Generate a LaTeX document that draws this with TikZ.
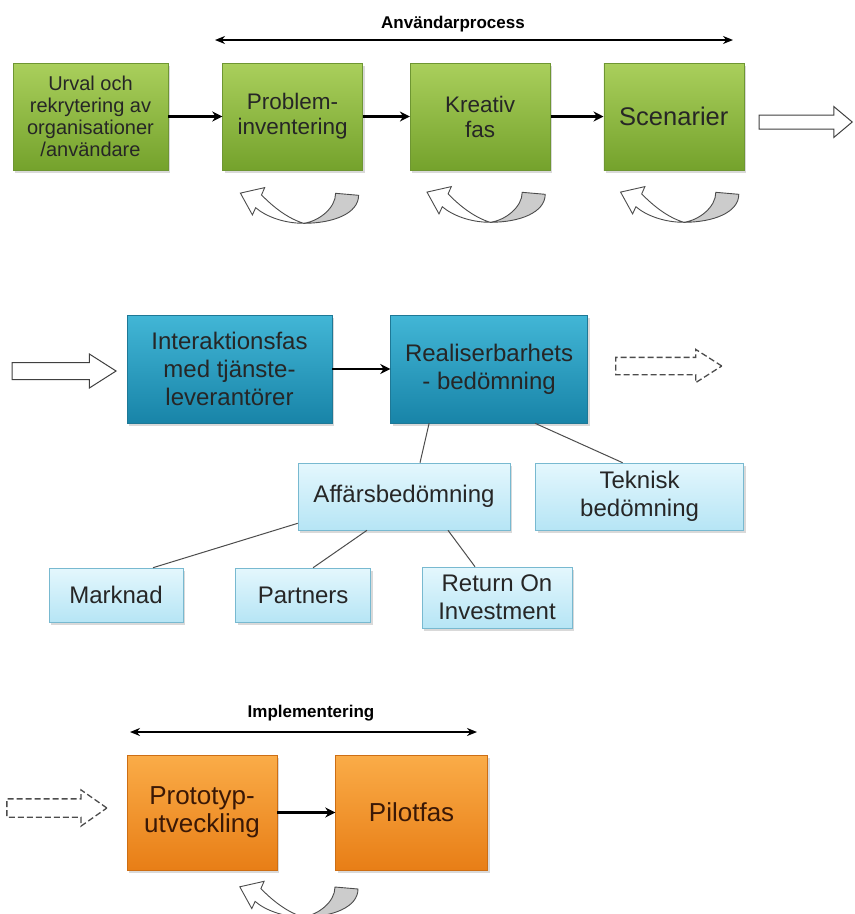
\documentclass[tikz,border=0pt]{standalone}
\usepackage{fontspec}
\setmainfont{Liberation Sans}
\usepackage{tikz}
\usetikzlibrary{positioning,shapes.arrows,shadows,arrows.meta}

\definecolor{gruntop}{RGB}{170,207,92}
\definecolor{grunbot}{RGB}{116,162,44}
\definecolor{grunkant}{RGB}{110,150,50}
\definecolor{blatop}{RGB}{66,182,214}
\definecolor{blabot}{RGB}{24,132,168}
\definecolor{blakant}{RGB}{30,120,150}
\definecolor{ljustop}{RGB}{228,247,253}
\definecolor{ljusbot}{RGB}{182,229,245}
\definecolor{ljuskant}{RGB}{120,185,208}
\definecolor{orantop}{RGB}{250,172,72}
\definecolor{oranbot}{RGB}{232,126,22}
\definecolor{orankant}{RGB}{205,110,20}

\begin{document}
\begin{tikzpicture}[
                x=1pt, y=-1pt,                % 像素坐标
                >={Stealth[length=10pt, width=10pt]},
                every node/.style={align=center, inner sep=2pt},
                box/.style={
                    rectangle,
                    line width=0.6pt,
                    drop shadow={opacity=0.3, shadow xshift=2pt, shadow yshift=-3pt}
                },
                gron/.style={box, top color=gruntop, bottom color=grunbot, draw=grunkant,
                    text=black!85, minimum width=140pt, minimum height=107pt,
                    font=\fontsize{22.5}{25}\selectfont},
                bla/.style={box, top color=blatop, bottom color=blabot, draw=blakant,
                    text=black!85, minimum height=108pt, font=\fontsize{24}{28}\selectfont},
                ljus/.style={box, top color=ljustop, bottom color=ljusbot, draw=ljuskant,
                    text=black!85, font=\fontsize{24}{28}\selectfont},
                oran/.style={box, top color=orantop, bottom color=oranbot, draw=orankant,
                    text={rgb,255:red,58;green,24;blue,6}, minimum height=115pt,
                    font=\fontsize{26}{28}\selectfont},
                arrow/.style={->, line width=2.6pt},
                dubbel/.style={{Stealth[length=10pt, width=8pt]}-{Stealth[length=10pt, width=8pt]}, line width=2pt},
                gren/.style={line width=1pt, draw=black!70},
                ihalig/.style={single arrow, draw=black!75, fill=white, line width=1pt,
                    inner xsep=0pt, minimum width=0pt, anchor=tip},
                streckad/.style={ihalig, draw=black!70, line width=1.3pt, dash pattern=on 6pt off 3pt},
                etikett/.style={font=\bfseries\fontsize{17}{20}\selectfont},
                pics/varv/.style={code={
                    \filldraw[fill=black!20, draw=black!70, line width=0.9pt]
                        (0,0) .. controls (30,0) and (55,-10) .. (55,-28) -- (32,-30)
                        .. controls (32,-15) and (15,-2) .. (0,0) -- cycle;
                    \filldraw[fill=white, draw=black!70, line width=0.9pt]
                        (0,0) .. controls (-20,0) and (-38,-7) .. (-47.9,-15.6) -- (-51.2,-8.4)
                        -- (-63.2,-30.2) -- (-38.9,-35.7) -- (-42.1,-28.4)
                        .. controls (-30,-16) and (-16,-5) .. (0,0) -- cycle;
                }}
            ]
                \useasboundingbox (0,0) rectangle (855,914);

                % 第一行
                \node[gron, minimum width=155pt, font=\fontsize{20}{22}\selectfont] (urval) at (90.5,116.5)
                    {Urval och\\rekrytering av\\organisationer\\/användare};
                \node[gron, right=54pt of urval] (probl) {Problem-\\inventering};
                \node[gron, right=47pt of probl] (kreativ) {Kreativ\\fas};
                \node[gron, right=53pt of kreativ, font=\fontsize{25.5}{28}\selectfont] (scen) {Scenarier};
                \node[ihalig, minimum height=93pt, inner ysep=6.5pt, single arrow head extend=8.5pt,
                    single arrow tip angle=80] (ut1) at (853,122) {};

                \coordinate (anv1) at (215,40);
                \coordinate (anv2) at (733,40);
                \draw[dubbel] (anv1) -- (anv2);
                \node[etikett] (anvtext) at (453,24) {Användarprocess};

                \draw[arrow] (urval) -- (probl);
                \draw[arrow] (probl) -- (kreativ);
                \draw[arrow] (kreativ) -- (scen);

                \pic at ([xshift=11pt,yshift=-53pt]probl.south) {varv};
                \pic at ([xshift=10pt,yshift=-52pt]kreativ.south) {varv};
                \pic at ([xshift=10pt,yshift=-52pt]scen.south) {varv};

                % 第二行
                \node[ihalig, minimum height=104pt, inner ysep=8pt, single arrow head extend=8.5pt,
                    single arrow tip angle=65] (in2) at (117,371) {};
                \node[bla, minimum width=205pt] (inter) at (229.5,369)
                    {Interaktionsfas\\med tjänste-\\leverantörer};
                \node[bla, minimum width=197pt, right=58pt of inter] (real) {Realiserbarhets\\- bedömning};
                \node[streckad, minimum height=106pt, inner ysep=8pt, single arrow head extend=8pt,
                    single arrow tip angle=65] (ut2) at (723,366) {};
                \draw[arrow] (inter) -- (real);

                \node[ljus, minimum width=212pt, minimum height=67pt] (aff) at (404,496.5) {Affärsbedömning};
                \node[ljus, minimum width=208pt, minimum height=67pt, right=25pt of aff] (tek) {Teknisk\\bedömning};
                \node[ljus, minimum width=134pt, minimum height=54pt] (mark) at (116,595) {Marknad};
                \node[ljus, minimum width=135pt, minimum height=54pt, right=52pt of mark] (part) {Partners};
                \node[ljus, minimum width=150pt, minimum height=61pt] (roi) at (497,597.5) {Return On\\Investment};

                \draw[gren] ([xshift=-60pt]real.south) -- ([xshift=16pt]aff.north);
                \draw[gren] ([xshift=46pt]real.south) -- ([xshift=-17pt]tek.north);
                \draw[gren] ([yshift=7pt]aff.south west) -- ([xshift=37pt]mark.north);
                \draw[gren] ([xshift=-37pt]aff.south) -- ([xshift=10pt]part.north);
                \draw[gren] ([xshift=44pt]aff.south) -- ([xshift=-22pt]roi.north);

                % 第三行
                \node[streckad, minimum height=100pt, inner ysep=8.5pt, single arrow head extend=9pt,
                    single arrow tip angle=70] (in3) at (108,808) {};
                \node[oran, minimum width=150pt] (proto) at (202,812.5) {Prototyp-\\utveckling};
                \node[oran, minimum width=152pt, right=58pt of proto] (pilot) {Pilotfas};
                \draw[arrow] (proto) -- (pilot);

                \coordinate (imp1) at (130,732);
                \coordinate (imp2) at (477,732);
                \draw[dubbel] (imp1) -- (imp2);
                \node[etikett] (imptext) at (311,713) {Implementering};

                \pic at (303,917) {varv};
            \end{tikzpicture}
\end{document}
